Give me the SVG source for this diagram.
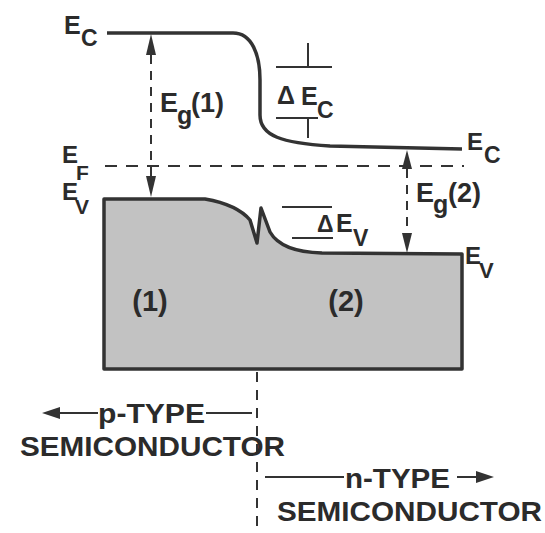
<svg xmlns="http://www.w3.org/2000/svg" width="545" height="533" viewBox="0 0 545 533">
<defs>
<style>
.t{font-family:"Liberation Sans",Arial,sans-serif;font-weight:bold;fill:#2b2b2b}
.band{fill:none;stroke:#333;stroke-width:3.5;stroke-linejoin:round}
.dash{fill:none;stroke:#333;stroke-width:2}
.thin{fill:none;stroke:#333;stroke-width:2}
.ah{fill:#333}
</style>
</defs>
<rect width="545" height="533" fill="#fff"/>
<g id="valence-block">
<path d="M104,199 L205,199 C222,202 240,208 250,220 L257,243 L261,208 L270,232 C278,246 295,252 322,253 L462,254 L462,369 L104,369 Z" fill="#c2c2c2" stroke="#333" stroke-width="3.5" stroke-linejoin="round"/>
<text class="t" x="150" y="311" font-size="29" text-anchor="middle">(1)</text>
<text class="t" x="346" y="311" font-size="29" text-anchor="middle">(2)</text>
</g>
<g id="conduction-band">
<path class="band" d="M107,33 L233,33 C252,33 260,55 260,80 L260,115 C260,136 282,143 330,146 L462,149"/>
</g>
<g id="fermi-level">
<path class="dash" d="M105,166 L464,166" stroke-dasharray="12,9"/>
</g>
<g id="labels-left">
<text class="t" x="64" y="34" font-size="25">E</text>
<text class="t" x="81" y="46" font-size="23">C</text>
<text class="t" x="62" y="163" font-size="24">E</text>
<text class="t" x="76" y="180" font-size="21">F</text>
<text class="t" x="62" y="200" font-size="24">E</text>
<text class="t" x="75" y="214" font-size="21">V</text>
</g>
<g id="labels-right">
<text class="t" x="467" y="150" font-size="24">E</text>
<text class="t" x="484" y="163" font-size="23">C</text>
<text class="t" x="465" y="264" font-size="24">E</text>
<text class="t" x="479" y="278" font-size="22">V</text>
</g>
<g id="eg1">
<path class="dash" d="M151,55 L151,176" stroke-dasharray="9,7"/>
<polygon class="ah" points="151,34 146,55 156,55"/>
<polygon class="ah" points="151,197 146,176 156,176"/>
<text class="t" x="160" y="112" font-size="27">E</text>
<text class="t" x="177" y="124" font-size="25">g</text>
<text class="t" x="191" y="112" font-size="27">(1)</text>
</g>
<g id="eg2">
<path class="dash" d="M407,169 L407,233" stroke-dasharray="9,7"/>
<polygon class="ah" points="407,150 402,169 412,169"/>
<polygon class="ah" points="407,253 402,233 412,233"/>
<text class="t" x="416" y="202" font-size="27">E</text>
<text class="t" x="433" y="213" font-size="25">g</text>
<text class="t" x="448" y="202" font-size="27">(2)</text>
</g>
<g id="delta-ec">
<path class="thin" d="M276,67 L332,67 M308,43 L308,67 M276,118 L318,118 M308,118 L308,138"/>
<text class="t" x="277" y="104" font-size="25">Δ</text>
<text class="t" x="301" y="105" font-size="25">E</text>
<text class="t" x="317" y="118" font-size="23">C</text>
</g>
<g id="delta-ev">
<path class="thin" d="M282,207 L332,207 M292,238 L333,238"/>
<text class="t" x="317" y="232" font-size="23">Δ</text>
<text class="t" x="336" y="232" font-size="25">E</text>
<text class="t" x="353" y="246" font-size="23">V</text>
</g>
<g id="junction">
<path class="dash" d="M257,372 L257,533" stroke-dasharray="10,8"/>
</g>
<g id="p-type">
<path class="thin" d="M58,413 L98,413 M206,413 L252,413"/>
<polygon class="ah" points="42,413 60,407 60,419"/>
<text class="t" x="98" y="423" font-size="27" textLength="107" lengthAdjust="spacingAndGlyphs">p-TYPE</text>
<text class="t" x="20" y="456" font-size="28" textLength="265" lengthAdjust="spacingAndGlyphs">SEMICONDUCTOR</text>
</g>
<g id="n-type">
<path class="thin" d="M265,477 L344,477 M457,477 L478,477"/>
<polygon class="ah" points="494,477 476,471 476,483"/>
<text class="t" x="345" y="488" font-size="27" textLength="105" lengthAdjust="spacingAndGlyphs">n-TYPE</text>
<text class="t" x="277" y="521" font-size="28" textLength="265" lengthAdjust="spacingAndGlyphs">SEMICONDUCTOR</text>
</g>
</svg>
